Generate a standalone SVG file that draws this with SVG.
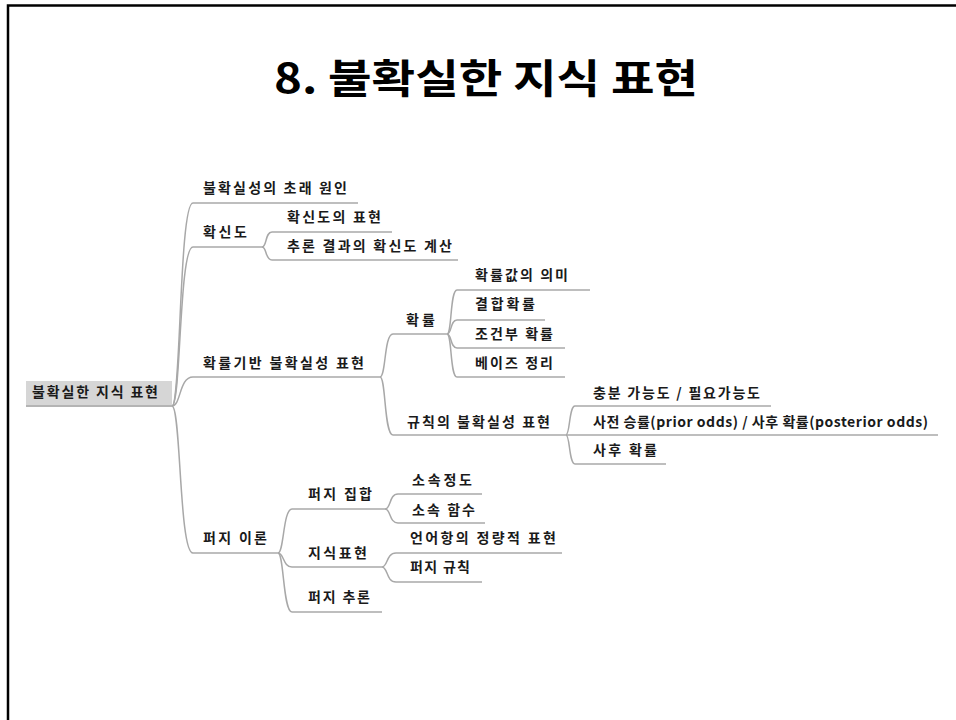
<svg xmlns="http://www.w3.org/2000/svg" width="956" height="720" viewBox="0 0 956 720">
<style>
.t{font-family:"Noto Sans CJK KR","Noto Sans",sans-serif;font-weight:bold;font-size:14px;fill:#1a1a1a}
.ul{stroke:#a8a8a8;stroke-width:1.5;fill:none}
.c{stroke:#a8a8a8;stroke-width:1.5;fill:none}
.title{font-family:"Noto Sans CJK KR","Noto Sans",sans-serif;font-weight:bold;font-size:40px;fill:#000}
</style>
<rect x="0" y="0" width="956" height="720" fill="#fff"/>
<path d="M8,720 V5.5 H956" fill="none" stroke="#000" stroke-width="2.5"/>
<text class="title" x="274" y="93" textLength="424" lengthAdjust="spacingAndGlyphs">8. 불확실한 지식 표현</text>

<g id="connectors">
<path class="c" d="M172,406 C181,406 179,203 193,203"/>
<path class="c" d="M172,406 C181,406 179,247 193,247"/>
<path class="c" d="M172,406 C181,406 179,377 193,377"/>
<path class="c" d="M172,406 C181,406 179,553 193,553"/>
<path class="c" d="M262,247 C267,247 265,232 272,232"/>
<path class="c" d="M262,247 C267,247 265,260 272,260"/>
<path class="c" d="M380,377 C386,377 384,334 393,334"/>
<path class="c" d="M380,377 C386,377 384,435 393,435"/>
<path class="c" d="M447,334 C452,334 450,290 457,290"/>
<path class="c" d="M447,334 C452,334 450,320 457,320"/>
<path class="c" d="M447,334 C452,334 450,348 457,348"/>
<path class="c" d="M447,334 C452,334 450,377 457,377"/>
<path class="c" d="M566,435 C570,435 569,406 575,406"/>
<path class="c" d="M566,435 L575,435"/>
<path class="c" d="M566,435 C570,435 569,464 575,464"/>
<path class="c" d="M278,553 C284,553 283,509 292,509"/>
<path class="c" d="M278,553 C284,553 283,567 292,567"/>
<path class="c" d="M278,553 C284,553 283,612 292,612"/>
<path class="c" d="M385,509 C391,509 389,494 398,494"/>
<path class="c" d="M385,509 C391,509 389,523 398,523"/>
<path class="c" d="M382,567 C388,567 386,553 396,553"/>
<path class="c" d="M382,567 C388,567 386,582 396,582"/>
</g>

<g id="root">
<rect x="26" y="381" width="146" height="26" fill="#d6d6d6"/>
<line class="ul" x1="26" y1="406" x2="172" y2="406"/>
<text class="t" x="32" y="397" textLength="126">불확실한 지식 표현</text>
</g>

<g id="n-cause"><line class="ul" x1="193" y1="203" x2="358" y2="203"/><text class="t" x="203" y="193" textLength="144">불확실성의 초래 원인</text></g>
<g id="n-cf"><line class="ul" x1="193" y1="247" x2="262" y2="247"/><text class="t" x="203" y="237" textLength="44">확신도</text></g>
<g id="n-cf-repr"><line class="ul" x1="272" y1="232" x2="392" y2="232"/><text class="t" x="287" y="222" textLength="94">확신도의 표현</text></g>
<g id="n-cf-calc"><line class="ul" x1="272" y1="260" x2="458" y2="260"/><text class="t" x="287" y="251" textLength="165">추론 결과의 확신도 계산</text></g>

<g id="n-prob-based"><line class="ul" x1="193" y1="377" x2="380" y2="377"/><text class="t" x="203" y="368" textLength="161">확률기반 불확실성 표현</text></g>
<g id="n-prob"><line class="ul" x1="393" y1="334" x2="447" y2="334"/><text class="t" x="406" y="325" textLength="29">확률</text></g>
<g id="n-prob-mean"><line class="ul" x1="457" y1="290" x2="590" y2="290"/><text class="t" x="475" y="280" textLength="93">확률값의 의미</text></g>
<g id="n-joint"><line class="ul" x1="457" y1="320" x2="545" y2="320"/><text class="t" x="475" y="309" textLength="60">결합확률</text></g>
<g id="n-cond"><line class="ul" x1="457" y1="348" x2="565" y2="348"/><text class="t" x="475" y="339" textLength="78">조건부 확률</text></g>
<g id="n-bayes"><line class="ul" x1="457" y1="377" x2="565" y2="377"/><text class="t" x="475" y="368" textLength="78">베이즈 정리</text></g>

<g id="n-rule"><line class="ul" x1="393" y1="435" x2="566" y2="435"/><text class="t" x="407" y="427" textLength="143">규칙의 불확실성 표현</text></g>
<g id="n-suff"><line class="ul" x1="575" y1="406" x2="771" y2="406"/><text class="t" x="593" y="398" textLength="167">충분 가능도 / 필요가능도</text></g>
<g id="n-odds"><line class="ul" x1="575" y1="435" x2="938" y2="435"/><text class="t" x="593" y="427" textLength="335">사전 승률(prior odds) / 사후 확률(posterior odds)</text></g>
<g id="n-post"><line class="ul" x1="575" y1="464" x2="666" y2="464"/><text class="t" x="593" y="455" textLength="64">사후 확률</text></g>

<g id="n-fuzzy"><line class="ul" x1="193" y1="553" x2="278" y2="553"/><text class="t" x="203" y="543" textLength="64">퍼지 이론</text></g>
<g id="n-fset"><line class="ul" x1="292" y1="509" x2="385" y2="509"/><text class="t" x="308" y="499" textLength="64">퍼지 집합</text></g>
<g id="n-degree"><line class="ul" x1="398" y1="494" x2="482" y2="494"/><text class="t" x="412" y="485" textLength="60">소속정도</text></g>
<g id="n-mf"><line class="ul" x1="398" y1="523" x2="485" y2="523"/><text class="t" x="412" y="515" textLength="63">소속 함수</text></g>
<g id="n-kr"><line class="ul" x1="292" y1="567" x2="382" y2="567"/><text class="t" x="308" y="558" textLength="59">지식표현</text></g>
<g id="n-ling"><line class="ul" x1="396" y1="553" x2="562" y2="553"/><text class="t" x="410" y="543" textLength="146">언어항의 정량적 표현</text></g>
<g id="n-frule"><line class="ul" x1="396" y1="582" x2="482" y2="582"/><text class="t" x="410" y="572" textLength="60">퍼지 규칙</text></g>
<g id="n-finf"><line class="ul" x1="292" y1="612" x2="382" y2="612"/><text class="t" x="308" y="602" textLength="62">퍼지 추론</text></g>
</svg>
